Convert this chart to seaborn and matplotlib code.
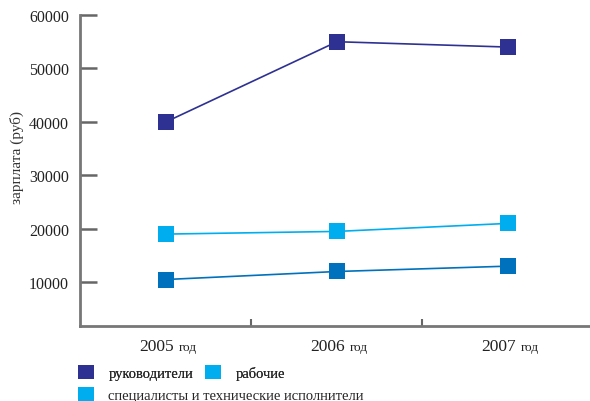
import matplotlib
matplotlib.use("Agg")
import matplotlib.pyplot as plt
import seaborn as sns
import pandas as pd
from matplotlib.patches import Patch

# chart values
years = ["2005", "2006", "2007"]
managers = [40000, 55000, 54000]
workers = [19000, 19500, 21000]
specialists = [10500, 12000, 13000]
series_names = ["руководители", "рабочие", "специалисты и технические исполнители"]
y_ticks = [10000, 20000, 30000, 40000, 50000, 60000]

colors = {"руководители": "#2e3192", "рабочие": "#00aeef",
          "специалисты и технические исполнители": "#0071bc"}
legend_colors = ["#2e3192", "#00aeef", "#00aeef"]

df = pd.DataFrame({
    "x": list(range(len(years))) * 3,
    "value": managers + workers + specialists,
    "group": [n for n in series_names for _ in years],
})

sns.set_style("white")
plt.rcParams["font.family"] = ["Liberation Serif", "DejaVu Serif"]

fig = plt.figure(figsize=(5.9, 4.02), dpi=100)
ax = fig.add_axes([80 / 590, 1 - 327 / 402, 510 / 590, (327 - 16) / 402])

sns.lineplot(data=df, x="x", y="value", hue="group", palette=colors,
             marker="s", markersize=11, markeredgewidth=0, linewidth=1.2,
             legend=False, ax=ax)

ax.set_xlim(-0.503, 2.48)
ax.set_ylim(1800, 60000)
ax.set_yticks(y_ticks)
ax.set_yticklabels([str(t) for t in y_ticks], fontsize=11.5, color="#222222")
ax.set_xticks([0.5, 1.5])
ax.set_xticklabels([])
ax.tick_params(axis="y", direction="in", length=12, width=1.8, color="#666666", pad=8, left=True)
ax.tick_params(axis="x", direction="in", length=5, width=1.5, color="#666666", bottom=True)
for side in ["top", "right"]:
    ax.spines[side].set_visible(False)
for side in ["left", "bottom"]:
    ax.spines[side].set_color("#777777")
    ax.spines[side].set_linewidth(2)
ax.set_xlabel("")
ax.set_ylabel("")
fig.text(17 / 590, 1 - 157 / 402, "зарплата (руб)", rotation=90,
         ha="center", va="center", fontsize=11, color="#333333")

# category labels: year + smaller "год"
for i, y in enumerate(years):
    ax.annotate(y, xy=(i, 0), xycoords=("data", "axes fraction"),
                xytext=(5.5, -17), textcoords="offset points",
                ha="right", va="baseline", fontsize=12.5, color="#222222")
    ax.annotate("год", xy=(i, 0), xycoords=("data", "axes fraction"),
                xytext=(9, -17), textcoords="offset points",
                ha="left", va="baseline", fontsize=9.5, color="#222222")

# legend rows
h = [Patch(facecolor=c, edgecolor="none") for c in legend_colors]
leg1 = fig.legend(h[:2], series_names[:2], ncol=2, loc="upper left",
                  bbox_to_anchor=(72 / 590, 1 - 360 / 402), frameon=False,
                  handlelength=1.1, handleheight=1.1, handletextpad=1.0,
                  columnspacing=0.8, fontsize=10.5, borderaxespad=0)
fig.legend(h[2:], series_names[2:], loc="upper left",
           bbox_to_anchor=(72 / 590, 1 - 382 / 402), frameon=False,
           handlelength=1.1, handleheight=1.1, handletextpad=1.0,
           fontsize=10.5, borderaxespad=0)
fig.add_artist(leg1)

fig.savefig("out.png", dpi=100)
